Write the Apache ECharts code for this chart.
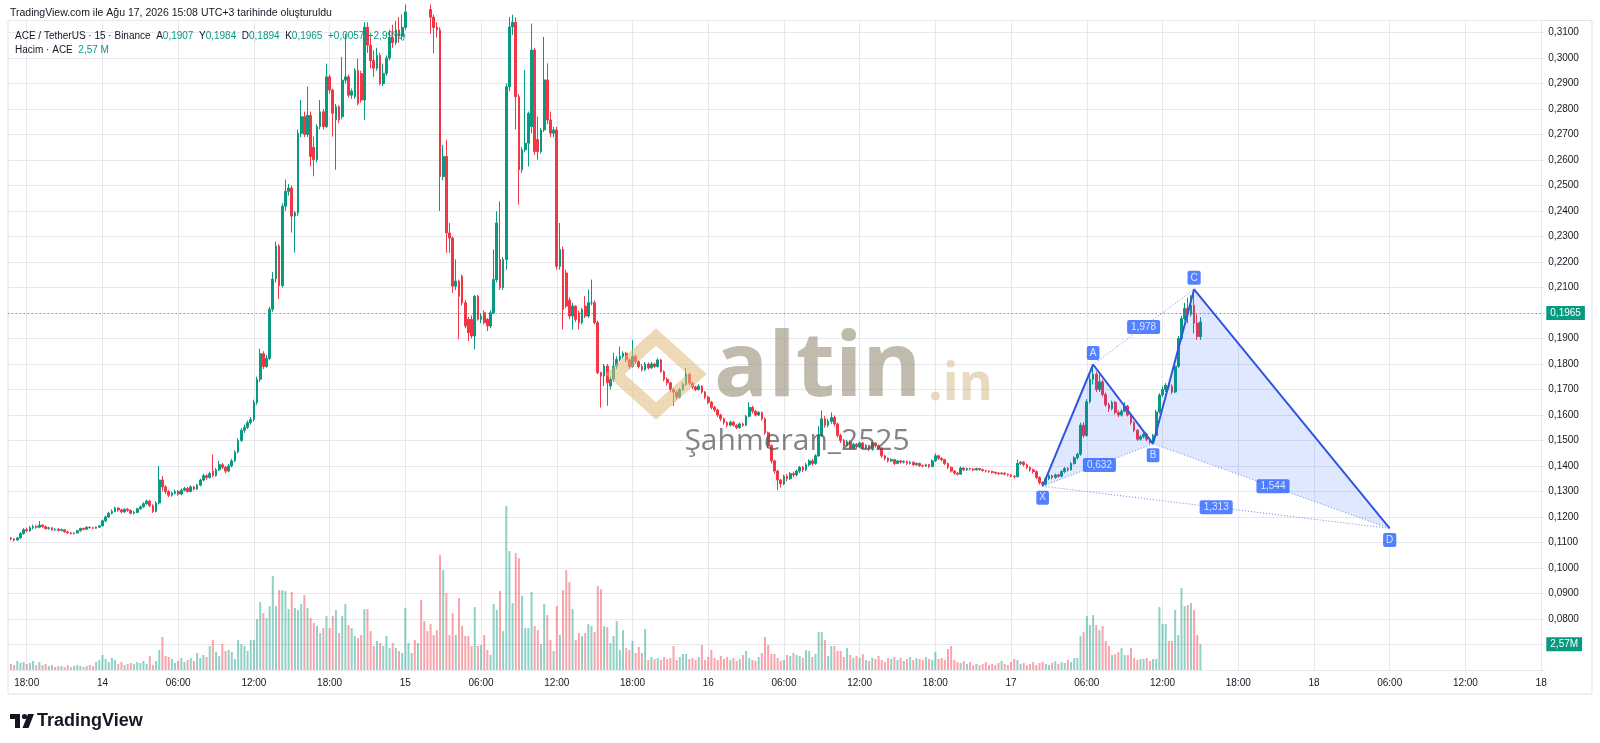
<!DOCTYPE html>
<html>
<head>
<meta charset="utf-8">
<title>ACE / TetherUS · 15 · Binance</title>
<script src="https://cdn.jsdelivr.net/npm/echarts/dist/echarts.min.js"></script>
<style>
html, body { margin: 0; padding: 0; background: #ffffff; }
#main { width: 1600px; height: 743px; }
</style>
</head>
<body>
<div id="main"></div>
<script>
// 15 dakikalik mumlar, 13 Agu 16:45 -> 17 Agu 15:00  [acilis, kapanis, dusuk, yuksek]
var candles = [
  // 13 Agu 16:45
  [.1118,.1114,.1108,.1122],[.1114,.1110,.1104,.1118],[.1110,.1118,.1106,.1122],[.1118,.1135,.1115,.1140],
  [.1135,.1150,.1130,.1156],[.1150,.1146,.1140,.1158],[.1146,.1158,.1142,.1165],[.1158,.1163,.1152,.1170],
  [.1163,.1160,.1154,.1168],[.1160,.1168,.1156,.1184],[.1168,.1162,.1158,.1172],[.1162,.1155,.1150,.1166],
  [.1155,.1158,.1150,.1162],[.1158,.1150,.1146,.1160],[.1150,.1152,.1146,.1156],[.1152,.1147,.1143,.1156],
  [.1147,.1150,.1144,.1155],[.1150,.1142,.1138,.1153],[.1142,.1138,.1134,.1146],[.1138,.1135,.1131,.1141],
  [.1135,.1137,.1132,.1140],[.1137,.1146,.1135,.1150],[.1146,.1155,.1143,.1158],[.1155,.1152,.1148,.1158],
  [.1152,.1160,.1150,.1163],[.1160,.1158,.1155,.1162],[.1158,.1156,.1153,.1161],[.1156,.1160,.1154,.1163],
  [.1160,.1165,.1158,.1168],
  // 14 Agu 00:00
  [.1165,.1185,.1163,.1190],[.1185,.1200,.1180,.1205],[.1200,.1215,.1196,.1220],[.1215,.1222,.1210,.1230],
  [.1222,.1235,.1218,.1240],[.1235,.1228,.1220,.1238],[.1228,.1220,.1214,.1232],[.1220,.1230,.1216,.1234],
  [.1230,.1226,.1220,.1236],[.1226,.1215,.1210,.1230],[.1215,.1218,.1210,.1224],[.1218,.1232,.1215,.1236],
  [.1232,.1240,.1228,.1245],[.1240,.1252,.1236,.1258],[.1252,.1262,.1248,.1268],[.1262,.1245,.1238,.1266],
  [.1245,.1222,.1216,.1250],[.1222,.1255,.1218,.1262],[.1255,.1345,.1250,.1400],[.1345,.1318,.1300,.1360],
  [.1318,.1300,.1290,.1325],[.1300,.1285,.1278,.1305],[.1285,.1293,.1280,.1300],[.1293,.1300,.1288,.1308],
  // 14 Agu 06:00
  [.1300,.1290,.1284,.1306],[.1290,.1305,.1286,.1312],[.1305,.1312,.1300,.1318],[.1312,.1300,.1295,.1318],
  [.1300,.1318,.1296,.1324],[.1318,.1310,.1304,.1322],[.1310,.1325,.1306,.1330],[.1325,.1345,.1320,.1350],
  [.1345,.1362,.1340,.1370],[.1362,.1355,.1346,.1368],[.1355,.1370,.1350,.1378],[.1380,.1362,.1355,.1445],
  [.1362,.1385,.1358,.1392],[.1385,.1405,.1380,.1420],[.1405,.1395,.1388,.1412],[.1395,.1380,.1372,.1400],
  [.1380,.1400,.1376,.1408],[.1400,.1420,.1395,.1428],[.1420,.1455,.1415,.1462],[.1455,.1500,.1450,.1508],
  [.1500,.1540,.1495,.1548],[.1540,.1552,.1530,.1562],[.1552,.1570,.1545,.1578],[.1570,.1582,.1562,.1592],
  // 14 Agu 12:00
  [.1582,.1650,.1575,.1660],[.1650,.1740,.1640,.1750],[.1740,.1840,.1730,.1860],[.1840,.1790,.1780,.1850],
  [.1790,.1822,.1785,.1835],[.1822,.2015,.1815,.2025],[.2015,.2133,.2005,.2160],[.2133,.2263,.2120,.2280],
  [.2263,.2107,.2055,.2270],[.2107,.2419,.2100,.2430],[.2419,.2477,.2400,.2523],[.2477,.2490,.2460,.2505],
  [.2490,.2380,.2315,.2500],[.2380,.2393,.2237,.2400],[.2393,.2705,.2380,.2720],[.2705,.2770,.2690,.2835],
  [.2770,.2700,.2690,.2790],[.2700,.2775,.2690,.2887],[.2775,.2614,.2575,.2790],[.2650,.2601,.2536,.2692],
  [.2601,.2731,.2590,.2740],[.2731,.2789,.2720,.2835],[.2789,.2731,.2720,.2800],[.2731,.2926,.2725,.2978],
  // 14 Agu 18:00
  [.2926,.2874,.2860,.2935],[.2874,.2783,.2692,.2880],[.2757,.2809,.2562,.2820],[.2809,.2757,.2745,.2815],
  [.2770,.2913,.2760,.3004],[.2913,.2926,.2900,.3095],[.2926,.2854,.2845,.2935],[.2854,.2870,.2840,.2880],
  [.2848,.2952,.2840,.2960],[.2952,.2822,.2815,.2997],[.2939,.2835,.2825,.2950],[.2835,.3121,.2757,.3140],
  [.3121,.3050,.3020,.3140],[.3050,.2990,.2960,.3080],[.2990,.2960,.2926,.3030],[.2960,.3010,.2950,.3040],
  [.3010,.2900,.2893,.3020],[.2900,.2940,.2890,.2978],[.2940,.3000,.2930,.3010],[.3000,.3080,.2990,.3110],
  [.3080,.3060,.3040,.3130],[.3060,.3110,.3050,.3145],[.3110,.3085,.3060,.3160],[.3085,.3120,.3070,.3170],
  // 15 Agu 00:00
  [.3120,.3180,.3110,.3210],[.3180,.3220,.3170,.3260],[.3220,.3260,.3200,.3300],[.3260,.3230,.3210,.3290],
  [.3230,.3270,.3220,.3310],[.3270,.3240,.3200,.3290],[.3240,.3210,.3180,.3260],[.3210,.3190,.3160,.3230],
  [.3190,.3160,.3095,.3210],[.3160,.3120,.3018,.3170],[.3120,.3110,.3080,.3140],[.3110,.2535,.2400,.3120],
  [.2535,.2614,.2520,.2659],[.2614,.2314,.2236,.2679],[.2314,.2294,.2236,.2353],[.2294,.2105,.2079,.2300],
  [.2105,.2125,.2090,.2210],[.2125,.2066,.1897,.2130],[.2144,.2040,.2030,.2150],[.2040,.1949,.1940,.2050],
  [.1975,.1923,.1890,.1985],[.1975,.1910,.1900,.1990],[.1910,.2066,.1858,.2070],[.2066,.1975,.1970,.2070],
  // 15 Agu 06:00
  [.1975,.1988,.1960,.2000],[.2001,.1962,.1955,.2010],[.1975,.1949,.1929,.1980],[.1949,.2001,.1940,.2010],
  [.2001,.2131,.1995,.2249],[.2131,.2353,.2120,.2399],[.2210,.2099,.2090,.2438],[.2099,.2210,.2090,.2220],
  [.2210,.2887,.2170,.2900],[.2887,.3122,.2870,.3160],[.3122,.3140,.3090,.3170],[.3140,.2848,.2720,.3160],
  [.2848,.2562,.2425,.2860],[.2562,.2640,.2549,.2650],[.2640,.2666,.2630,.2953],[.2666,.2783,.2575,.2790],
  [.2731,.3031,.2705,.3135],[.3031,.2633,.2620,.3040],[.2680,.2633,.2601,.2770],[.2633,.2718,.2625,.2725],
  [.2718,.2914,.2710,.3083],[.2914,.2757,.2740,.2979],[.2757,.2705,.2690,.2790],[.2705,.2718,.2690,.2730],
  // 15 Agu 12:00
  [.2718,.2183,.2170,.2730],[.2183,.2249,.2170,.2353],[.2249,.2014,.1936,.2260],[.2157,.2027,.2020,.2170],
  [.2050,.1988,.1975,.2060],[.1988,.2027,.1936,.2040],[.2027,.1975,.1965,.2030],[.2001,.1962,.1936,.2010],
  [.1962,.2014,.1955,.2020],[.2027,.1988,.1980,.2066],[.1988,.2040,.1980,.2092],[.2040,.2040,.2030,.2131],
  [.2040,.1962,.1955,.2050],[.1962,.1766,.1760,.1970],[.1766,.1753,.1629,.1770],[.1753,.1792,.1714,.1800],
  [.1792,.1727,.1636,.1800],[.1714,.1740,.1700,.1750],[.1740,.1792,.1730,.1844],[.1792,.1818,.1780,.1830],
  [.1818,.1830,.1810,.1868],[.1830,.1842,.1822,.1850],[.1842,.1816,.1808,.1848],[.1816,.1790,.1780,.1822],
  // 15 Agu 18:00
  [.1790,.1830,.1786,.1894],[.1830,.1810,.1800,.1838],[.1810,.1790,.1782,.1815],[.1790,.1778,.1770,.1800],
  [.1778,.1800,.1772,.1808],[.1800,.1785,.1778,.1806],[.1785,.1800,.1780,.1808],[.1800,.1790,.1784,.1805],
  [.1790,.1816,.1786,.1822],[.1816,.1770,.1765,.1820],[.1770,.1740,.1732,.1775],[.1740,.1726,.1715,.1748],
  [.1726,.1700,.1690,.1730],[.1700,.1690,.1636,.1705],[.1690,.1670,.1660,.1695],[.1670,.1700,.1665,.1705],
  [.1700,.1720,.1694,.1728],[.1720,.1760,.1715,.1784],[.1760,.1725,.1718,.1765],[.1725,.1710,.1702,.1730],
  [.1710,.1700,.1694,.1715],[.1700,.1713,.1696,.1720],[.1713,.1690,.1684,.1716],[.1690,.1670,.1662,.1694],
  // 16 Agu 00:00
  [.1670,.1650,.1642,.1675],[.1650,.1630,.1622,.1655],[.1630,.1620,.1612,.1636],[.1620,.1600,.1592,.1625],
  [.1600,.1585,.1576,.1605],[.1585,.1570,.1562,.1590],[.1570,.1560,.1552,.1575],[.1560,.1572,.1556,.1578],
  [.1572,.1560,.1554,.1576],[.1560,.1550,.1544,.1564],[.1550,.1565,.1546,.1570],[.1565,.1560,.1554,.1570],
  [.1560,.1595,.1556,.1600],[.1595,.1630,.1590,.1650],[.1630,.1615,.1606,.1636],[.1615,.1600,.1594,.1620],
  [.1600,.1610,.1596,.1616],[.1610,.1585,.1578,.1614],[.1585,.1530,.1522,.1590],[.1530,.1480,.1470,.1535],
  [.1480,.1420,.1410,.1485],[.1420,.1380,.1370,.1425],[.1380,.1345,.1305,.1385],[.1345,.1330,.1315,.1350],
  // 16 Agu 06:00
  [.1330,.1360,.1325,.1366],[.1360,.1350,.1340,.1368],[.1350,.1370,.1345,.1376],[.1370,.1365,.1356,.1378],
  [.1365,.1380,.1360,.1386],[.1380,.1395,.1372,.1400],[.1395,.1385,.1376,.1400],[.1385,.1405,.1380,.1412],
  [.1405,.1420,.1398,.1426],[.1420,.1410,.1402,.1428],[.1410,.1440,.1405,.1446],[.1440,.1520,.1436,.1556],
  [.1520,.1585,.1515,.1617],[.1585,.1560,.1550,.1595],[.1560,.1575,.1552,.1585],[.1575,.1590,.1566,.1610],
  [.1590,.1565,.1556,.1598],[.1565,.1520,.1512,.1570],[.1520,.1500,.1490,.1526],[.1500,.1480,.1472,.1506],
  [.1480,.1495,.1476,.1502],[.1495,.1470,.1464,.1500],[.1470,.1485,.1466,.1492],[.1485,.1475,.1468,.1490],
  // 16 Agu 12:00
  [.1475,.1490,.1470,.1496],[.1490,.1470,.1464,.1494],[.1470,.1480,.1465,.1486],[.1480,.1465,.1458,.1484],
  [.1465,.1490,.1460,.1496],[.1490,.1480,.1472,.1494],[.1480,.1470,.1462,.1484],[.1470,.1440,.1432,.1474],
  [.1440,.1430,.1422,.1444],[.1430,.1420,.1414,.1434],[.1420,.1425,.1416,.1430],[.1425,.1410,.1404,.1428],
  [.1410,.1420,.1406,.1424],[.1420,.1415,.1409,.1424],[.1415,.1418,.1410,.1422],[.1418,.1410,.1404,.1421],
  [.1410,.1415,.1406,.1419],[.1415,.1405,.1400,.1418],[.1405,.1410,.1401,.1414],[.1410,.1402,.1396,.1413],
  [.1402,.1400,.1394,.1406],[.1400,.1405,.1396,.1409],[.1405,.1398,.1392,.1408],[.1398,.1420,.1395,.1426],
  // 16 Agu 18:00
  [.1420,.1440,.1416,.1450],[.1440,.1430,.1424,.1444],[.1430,.1425,.1418,.1434],[.1425,.1410,.1404,.1428],
  [.1410,.1395,.1388,.1413],[.1395,.1380,.1374,.1398],[.1380,.1372,.1366,.1384],[.1372,.1368,.1362,.1376],
  [.1368,.1392,.1365,.1398],[.1392,.1385,.1380,.1395],[.1385,.1390,.1381,.1394],[.1390,.1388,.1383,.1393],
  [.1388,.1385,.1380,.1391],[.1385,.1390,.1382,.1393],[.1390,.1386,.1381,.1392],[.1386,.1382,.1378,.1389],
  [.1382,.1380,.1375,.1385],[.1380,.1378,.1373,.1383],[.1378,.1375,.1370,.1381],[.1375,.1372,.1367,.1378],
  [.1372,.1370,.1365,.1376],[.1370,.1372,.1366,.1376],[.1372,.1368,.1363,.1375],[.1368,.1365,.1360,.1371],
  // 17 Agu 00:00
  [.1365,.1360,.1355,.1368],[.1360,.1358,.1351,.1364],[.1358,.1410,.1355,.1425],[.1410,.1415,.1404,.1420],
  [.1415,.1405,.1398,.1420],[.1405,.1395,.1388,.1410],[.1395,.1385,.1378,.1398],[.1385,.1378,.1370,.1390],
  [.1378,.1355,.1348,.1382],[.1355,.1335,.1328,.1360],[.1335,.1328,.1321,.1340],[.1328,.1350,.1324,.1356],
  [.1350,.1362,.1345,.1368],[.1362,.1355,.1348,.1366],[.1355,.1365,.1350,.1370],[.1365,.1360,.1354,.1370],
  [.1360,.1378,.1356,.1384],[.1378,.1390,.1372,.1396],[.1390,.1385,.1378,.1396],[.1385,.1410,.1382,.1416],
  [.1410,.1432,.1405,.1438],[.1432,.1446,.1426,.1452],[.1446,.1560,.1440,.1570],[.1560,.1520,.1510,.1572],
  // 17 Agu 06:00
  [.1520,.1652,.1515,.1662],[.1652,.1740,.1645,.1760],[.1740,.1760,.1720,.1798],[.1760,.1700,.1690,.1770],
  [.1700,.1730,.1690,.1760],[.1730,.1680,.1672,.1738],[.1680,.1640,.1632,.1688],[.1640,.1625,.1612,.1648],
  [.1625,.1650,.1618,.1656],[.1650,.1610,.1602,.1655],[.1610,.1600,.1592,.1618],[.1600,.1615,.1594,.1622],
  [.1615,.1635,.1610,.1650],[.1635,.1600,.1594,.1640],[.1600,.1570,.1562,.1605],[.1570,.1540,.1532,.1575],
  [.1540,.1505,.1498,.1545],[.1505,.1515,.1500,.1522],[.1515,.1525,.1508,.1532],[.1525,.1505,.1498,.1530],
  [.1505,.1492,.1487,.1510],[.1492,.1520,.1487,.1526],[.1520,.1612,.1515,.1620],[.1612,.1678,.1605,.1686],
  // 17 Agu 12:00
  [.1678,.1700,.1670,.1712],[.1700,.1717,.1690,.1725],[.1717,.1712,.1700,.1724],[.1712,.1690,.1682,.1720],
  [.1690,.1791,.1686,.1800],[.1791,.1900,.1785,.1910],[.1900,.1978,.1892,.1988],[.1978,.2018,.1970,.2040],
  [.2018,.1995,.1960,.2060],[.1995,.2030,.1985,.2070],[.2030,.1960,.1920,.2093],[.1960,.1908,.1895,.1995],
  [.1907,.1965,.1894,.1984]
];

// hacim, milyon ACE
var volumes = [
  .6,.5,.9,.7,.8,.6,.7,.9,.5,.8,.5,.6,.4,.5,.3,.4,.4,.3,.5,.3,.4,.5,.4,.3,.4,.5,.4,.8,
  1.0,1.5,1.1,.8,1.2,1.0,.6,.8,.5,.6,.7,.6,.8,.7,.9,.6,1.4,.5,.9,2.0,3.3,1.4,1.3,1.1,
  .7,.9,1.2,.8,1.0,1.2,.9,1.7,1.2,1.5,1.3,2.4,3.0,1.8,1.4,2.6,1.9,2.0,1.8,1.1,3.0,2.6,2.4,1.9,
  3.0,3.0,5.1,6.8,5.7,5.2,6.4,9.4,6.4,8.0,8.0,7.9,6.1,7.8,6.2,6.0,6.6,7.5,6.2,5.2,4.7,4.4,3.7,4.2,
  5.4,4.2,5.4,6.0,3.7,5.4,6.6,4.5,4.2,3.4,3.2,3.5,6.1,6.1,3.9,2.4,2.9,2.7,2.4,3.4,2.2,2.7,2.2,1.9,
  1.7,6.2,2.7,1.7,3.0,2.7,7.0,4.9,3.9,4.6,3.5,4.0,11.5,10.0,7.7,3.5,5.7,3.5,7.2,4.4,3.4,3.4,2.4,6.3,
  2.4,2.5,3.5,2.0,1.5,6.6,6.0,7.9,3.9,16.4,11.9,6.7,11.7,11.2,7.4,4.2,4.2,7.8,4.4,4.0,2.6,6.6,5.5,3.0,
  1.9,6.4,3.5,8.0,10.0,8.8,6.1,3.0,3.7,3.4,3.7,4.6,4.4,3.8,8.4,8.1,4.4,4.3,2.7,3.4,4.9,2.0,4.0,2.2,
  2.0,2.9,1.7,2.3,1.7,4.1,1.0,1.3,1.1,1.2,1.0,1.3,1.1,1.2,2.4,1.0,1.3,1.6,1.6,1.1,1.2,1.0,1.3,2.5,
  1.0,1.3,2.0,1.2,1.0,1.4,1.1,1.3,1.0,1.2,.9,1.1,1.5,1.9,1.2,1.0,.9,1.3,1.7,3.3,2.5,1.6,1.6,1.2,
  .9,1.0,1.5,1.4,1.7,1.5,1.4,1.2,2.0,1.9,1.3,1.6,3.8,3.8,3.0,1.4,2.4,2.4,1.9,1.9,1.3,2.2,1.5,1.2,
  1.4,1.2,1.6,1.0,.9,1.2,1.1,1.4,1.0,.8,1.2,1.1,1.3,1.0,1.2,.9,1.1,1.3,1.0,1.2,1.1,1.0,1.3,1.1,
  1.0,1.8,1.1,1.2,1.0,2.1,2.4,1.0,.8,.7,.9,.6,.8,.5,.6,.5,.6,.8,.5,.6,.5,.7,.9,.6,
  .5,.8,1.1,1.0,.6,.7,.5,.6,.8,.5,.7,.8,.6,.5,.7,.9,.6,.8,.7,1.0,.8,1.2,1.2,3.4,
  3.8,5.4,4.5,5.5,4.5,4.0,4.4,2.9,2.4,1.5,1.6,1.8,2.2,1.5,1.5,2.2,1.2,1.0,1.1,1.1,1.2,.9,1.1,1.1,
  6.3,4.6,4.6,2.9,2.9,6.0,3.5,8.2,6.4,6.5,6.7,6.0,3.5,2.57
];

// alt eksen: her 6 saatte bir etiket, ilki 13 Agu 18:00
var tickLabels = ['18:00','14','06:00','12:00','18:00','15','06:00','12:00','18:00','16','06:00',
  '12:00','18:00','17','06:00','12:00','18:00','18','06:00','12:00','18'];

// XABCD formasyonu (mum sirasi, fiyat)
var patternNames = ['X','A','B','C','D'];
var patternBars = [327, 343, 362, 375, 437];
var patternPrices = [0.1321, 0.1798, 0.1487, 0.2093, 0.1155];
var ratioPairs = [[0,2],[1,3],[2,4],[0,4]];
var ratioTexts = ['0,632','1,978','1,544','1,313'];

var upColor = '#089981';
var downColor = '#f23645';
var patternColor = '#2962ff';
var gridColor = '#e6e8ed';
var textColor = '#131722';
var font = 'Liberation Sans';

var slotCount = 488;     // bos ilk yuva + mumlar + sag bosluk
var firstTick = 6;
var tickStep = 24;

// kategoriler: 13 Agu 16:30'dan itibaren 15 dk
var categories = [];
var t0 = Date.UTC(2026, 7, 13, 16, 30);
for (var k = 0; k < slotCount; k++) {
  var d = new Date(t0 + k * 15 * 60000);
  categories.push(d.getUTCDate() + ' ' + ('0' + d.getUTCHours()).slice(-2) + ':' + ('0' + d.getUTCMinutes()).slice(-2));
}

function fmt(v, n) {
  return v.toFixed(n).replace('.', ',');
}

function isTick(index) {
  return index >= firstTick && (index - firstTick) % tickStep === 0;
}

var candleData = [];
var volumeData = [];
for (var i = 0; i < candles.length; i++) {
  var c = candles[i];
  candleData.push([i + 1, c[0], c[1], c[2], c[3]]);
  volumeData.push({
    value: [i + 1, volumes[i]],
    itemStyle: { color: c[1] >= c[0] ? 'rgba(8,153,129,0.45)' : 'rgba(242,54,69,0.45)' }
  });
}

var last = candles[candles.length - 1];
var prevClose = candles[candles.length - 2][1];
var change = last[1] - prevClose;
var lastVolume = volumes[volumes.length - 1];

function pt(j) {
  return [patternBars[j] + 1, patternPrices[j]];
}

var series = [];

// mumlar
series.push({
  type: 'candlestick',
  xAxisIndex: 0,
  yAxisIndex: 0,
  data: candleData,
  encode: { x: 0, y: [1, 2, 3, 4] },
  barWidth: 2.2,
  clip: true,
  z: 3,
  itemStyle: {
    color: upColor, color0: downColor,
    borderColor: upColor, borderColor0: downColor, borderWidth: 1
  },
  markLine: {
    silent: true,
    symbol: ['none', 'none'],
    lineStyle: { color: upColor, type: [1, 3], width: 1 },
    label: {
      show: true, position: 'end', distance: 2,
      formatter: fmt(last[1], 4),
      backgroundColor: upColor, color: '#fff',
      padding: [2, 4], fontSize: 10, fontFamily: font
    },
    data: [{ yAxis: last[1] }]
  }
});

// hacim
series.push({
  type: 'bar',
  xAxisIndex: 1,
  yAxisIndex: 1,
  data: volumeData,
  barWidth: 2,
  z: 2,
  markLine: {
    silent: true,
    symbol: ['none', 'none'],
    lineStyle: { color: 'rgba(0,0,0,0)', width: 1, type: 'solid' },
    label: {
      show: true, position: 'end', distance: 2,
      formatter: fmt(lastVolume, 2) + 'M',
      backgroundColor: upColor, color: '#fff',
      padding: [2, 4], fontSize: 10, fontFamily: font
    },
    data: [{ yAxis: lastVolume }]
  }
});

// formasyon ucgenleri
var triangles = [[0, 1, 2], [2, 3, 4]];
series.push({
  type: 'custom',
  xAxisIndex: 0,
  yAxisIndex: 0,
  silent: true,
  z: 5,
  data: [0, 1],
  renderItem: function (params, api) {
    var tri = triangles[params.dataIndex];
    var pts = [];
    for (var m = 0; m < tri.length; m++) pts.push(api.coord(pt(tri[m])));
    return { type: 'polygon', shape: { points: pts }, style: { fill: 'rgba(41,98,255,0.15)' } };
  }
});

// formasyon bacaklari
var legData = [];
for (var j = 0; j < patternNames.length; j++) legData.push(pt(j));
series.push({
  type: 'line',
  xAxisIndex: 0,
  yAxisIndex: 0,
  data: legData,
  symbol: 'none',
  silent: true,
  z: 6,
  lineStyle: { color: '#3056e0', width: 2 }
});

// oran cizgileri (noktali)
for (var r = 0; r < ratioPairs.length; r++) {
  series.push({
    type: 'line',
    xAxisIndex: 0,
    yAxisIndex: 0,
    data: [pt(ratioPairs[r][0]), pt(ratioPairs[r][1])],
    symbol: 'none',
    silent: true,
    z: 6,
    lineStyle: { color: '#6f86e8', width: 1, type: [1, 2] }
  });
}

// oran etiketleri, cizgi ortasinda
var ratioLabels = [];
for (var r2 = 0; r2 < ratioPairs.length; r2++) {
  var p1 = pt(ratioPairs[r2][0]), p2 = pt(ratioPairs[r2][1]);
  ratioLabels.push({ value: [(p1[0] + p2[0]) / 2, (p1[1] + p2[1]) / 2], name: ratioTexts[r2] });
}
series.push({
  type: 'scatter',
  xAxisIndex: 0,
  yAxisIndex: 0,
  data: ratioLabels,
  symbolSize: 1,
  silent: true,
  z: 8,
  itemStyle: { color: 'rgba(0,0,0,0)' },
  label: {
    show: true, position: 'inside', formatter: '{b}',
    backgroundColor: patternColor, color: '#fff', borderRadius: 2,
    padding: [2, 4], fontSize: 10, fontFamily: font
  }
});

// nokta etiketleri X A B C D
var pointLabels = [];
for (var q = 0; q < patternNames.length; q++) {
  pointLabels.push({
    value: pt(q),
    name: patternNames[q],
    label: { position: q % 2 === 1 ? 'top' : 'bottom' }
  });
}
series.push({
  type: 'scatter',
  xAxisIndex: 0,
  yAxisIndex: 0,
  data: pointLabels,
  symbolSize: 1,
  silent: true,
  z: 8,
  itemStyle: { color: 'rgba(0,0,0,0)' },
  label: {
    show: true, formatter: '{b}', distance: 4,
    backgroundColor: patternColor, color: '#fff', borderRadius: 2,
    padding: [2, 3], fontSize: 10, fontFamily: font
  }
});

var gridBox = { left: 7.8, right: 55.7, top: 20.5, bottom: 73 };

var option = {
  animation: false,
  backgroundColor: '#ffffff',
  textStyle: { fontFamily: font },
  grid: [
    { left: gridBox.left, right: gridBox.right, top: gridBox.top, bottom: gridBox.bottom },
    { left: gridBox.left, right: gridBox.right, top: gridBox.top, bottom: gridBox.bottom }
  ],
  xAxis: [
    {
      type: 'category', gridIndex: 0, data: categories, boundaryGap: false,
      axisLine: { show: false }, axisTick: { show: false },
      axisLabel: {
        interval: function (index) { return isTick(index); },
        formatter: function (value, index) { return tickLabels[(index - firstTick) / tickStep]; },
        color: textColor, fontSize: 10, margin: 8, fontFamily: font
      },
      splitLine: { show: true, interval: function (index) { return isTick(index); }, lineStyle: { color: gridColor } }
    },
    { type: 'category', gridIndex: 1, data: categories, boundaryGap: false, show: false }
  ],
  yAxis: [
    {
      type: 'value', gridIndex: 0, position: 'right',
      min: 0.06, max: 0.3147, interval: 0.01,
      axisLine: { show: false }, axisTick: { show: false },
      axisLabel: {
        color: textColor, fontSize: 10, margin: 4, fontFamily: font,
        showMaxLabel: false, showMinLabel: false,
        formatter: function (v) { return v < 0.075 ? '' : fmt(v, 4); }
      },
      splitLine: { lineStyle: { color: gridColor } }
    },
    { type: 'value', gridIndex: 1, min: 0, max: 65, show: false, splitLine: { show: false } }
  ],
  series: series,
  graphic: [
    // cerceve
    { type: 'rect', silent: true, z: 0, shape: { x: 8, y: 20.5, width: 1584, height: 673.5 },
      style: { fill: 'none', stroke: '#e0e3eb', lineWidth: 1 } },
    // ust baslik
    { type: 'text', silent: true, left: 10, top: 8,
      style: { text: 'TradingView.com ile Ağu 17, 2026 15:08 UTC+3 tarihinde oluşturuldu',
        fill: textColor, font: '10.5px "Liberation Sans"' } },
    { type: 'text', silent: true, left: 15, top: 31, z: 20,
      style: {
        text: '{d|ACE / TetherUS · 15 · Binance  A}{g|' + fmt(last[0], 4) + '}{d|  Y}{g|' + fmt(last[3], 4) +
          '}{d|  D}{g|' + fmt(last[2], 4) + '}{d|  K}{g|' + fmt(last[1], 4) + '}{g|  +' + fmt(change, 4) +
          '(+' + fmt(change / prevClose * 100, 2) + '%)}',
        rich: {
          d: { fill: textColor, font: '10px "Liberation Sans"' },
          g: { fill: upColor, font: '10px "Liberation Sans"' }
        }
      } },
    { type: 'text', silent: true, left: 15, top: 45, z: 20,
      style: {
        text: '{d|Hacim · ACE  }{g|' + fmt(lastVolume, 2) + ' M}',
        rich: {
          d: { fill: textColor, font: '10px "Liberation Sans"' },
          g: { fill: upColor, font: '10px "Liberation Sans"' }
        }
      } },
    // filigran
    { type: 'polygon', silent: true, z: 30,
      shape: { points: [[656, 337], [697, 374], [656, 411], [615, 374]] },
      style: { fill: 'none', stroke: 'rgba(222,186,120,0.55)', lineWidth: 13 } },
    { type: 'text', silent: true, z: 30, x: 714, y: 370,
      style: { text: 'altin', fill: 'rgba(160,150,130,0.65)', font: 'bold 90px "Open Sans"', verticalAlign: 'middle' } },
    { type: 'text', silent: true, z: 30, x: 928, y: 385,
      style: { text: '.in', fill: 'rgba(214,194,150,0.6)', font: 'bold 52px "Open Sans"', verticalAlign: 'middle' } },
    { type: 'text', silent: true, z: 30, x: 797, y: 441,
      style: { text: 'Şahmeran_2525', fill: 'rgba(85,85,85,0.72)', font: '30px "Open Sans"', align: 'center', verticalAlign: 'middle' } },
    // TradingView logosu
    { type: 'rect', silent: true, shape: { x: 10, y: 714, width: 10, height: 5 }, style: { fill: textColor } },
    { type: 'rect', silent: true, shape: { x: 15, y: 714, width: 5, height: 14 }, style: { fill: textColor } },
    { type: 'circle', silent: true, shape: { cx: 24.5, cy: 716.5, r: 2.6 }, style: { fill: textColor } },
    { type: 'polygon', silent: true, shape: { points: [[28, 714], [34, 714], [28.5, 728], [22.5, 728]] }, style: { fill: textColor } },
    { type: 'text', silent: true, x: 37, y: 721,
      style: { text: 'TradingView', fill: textColor, font: 'bold 18px "Liberation Sans"', verticalAlign: 'middle' } }
  ]
};

var myChart = echarts.init(document.getElementById('main'));
myChart.setOption(option);
</script>
</body>
</html>
